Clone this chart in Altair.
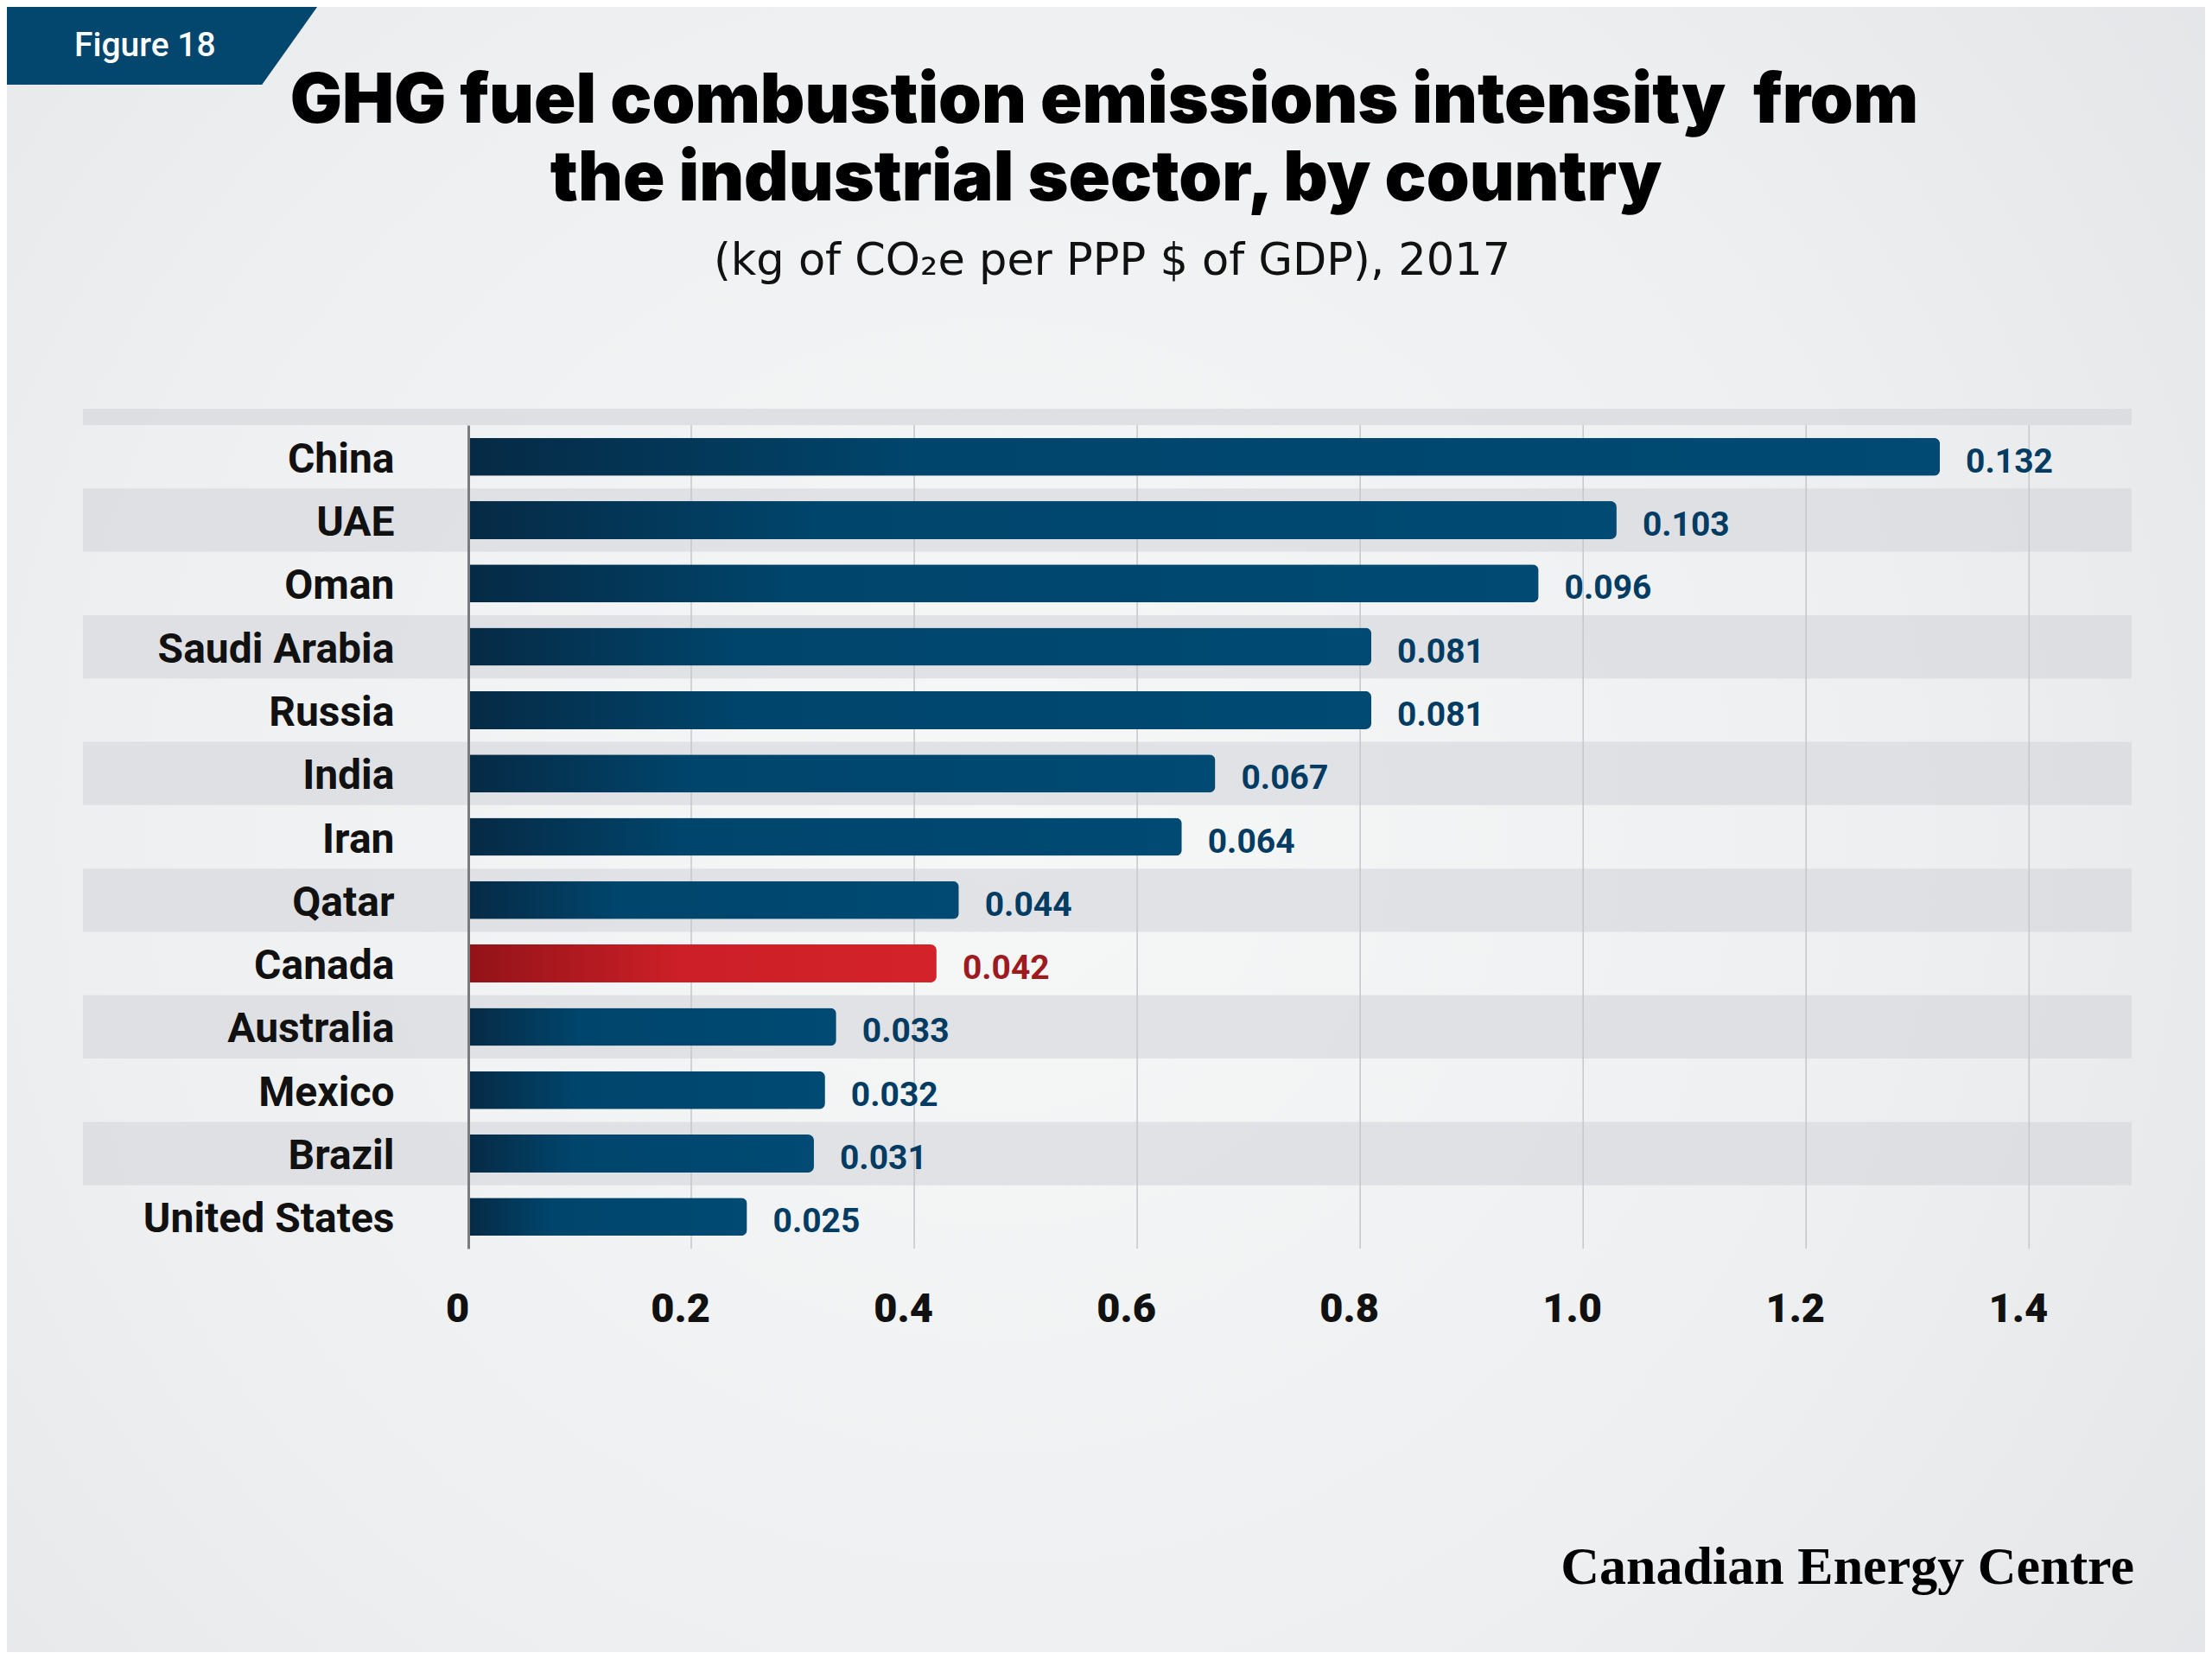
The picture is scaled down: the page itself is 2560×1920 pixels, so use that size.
import altair as alt
import pandas as pd

countries = ["China", "UAE", "Oman", "Saudi Arabia", "Russia", "India", "Iran",
             "Qatar", "Canada", "Australia", "Mexico", "Brazil", "United States"]
values = [0.132, 0.103, 0.096, 0.081, 0.081, 0.067, 0.064,
          0.044, 0.042, 0.033, 0.032, 0.031, 0.025]
tick_values = [0, 0.02, 0.04, 0.06, 0.08, 0.10, 0.12, 0.14]
highlight = "Canada"

title_1 = "GHG fuel combustion emissions intensity\u00a0 from"
title_2 = "the industrial sector, by country"
subtitle = "(kg of CO\u2082e per PPP $ of GDP), 2017"
figure_label = "Figure 18"
source_label = "Canadian Energy Centre"

W, H = 1925, 953
df = pd.DataFrame({"country": countries, "value": values})
df["label"] = [f"{v:.3f}" for v in values]
df["row"] = range(len(countries))
df["striped"] = df["row"] % 2 == 1
df["is_hl"] = df["country"] == highlight

xscale = alt.Scale(domain=[0, 0.1492], nice=False, zero=True)
x_axis = alt.Axis(title=None, values=tick_values, grid=False, domain=False, ticks=False,
                  tickSize=0, labelPadding=84, labelBaseline="alphabetic", labelFlush=False,
                  labelExpr="datum.value == 0 ? '0' : format(datum.value * 10, '.1f')",
                  labelFont="Roboto", labelFontSize=47, labelFontWeight=900,
                  labelColor="#111111", labelOffset=-13, zindex=1)
y_axis = alt.Axis(title=None, domain=True, domainColor="#7b7c7f", domainWidth=3,
                  ticks=False, tickSize=0, labelPadding=86, labelBaseline="alphabetic",
                  labelOffset=18, labelFont="Roboto", labelFontSize=48,
                  labelFontWeight="bold", labelColor="#111111", labelAlign="right",
                  labelLimit=600, zindex=1)
yscale = alt.Scale(paddingInner=0, paddingOuter=0)
Y = alt.Y("country:N", sort=countries, scale=yscale, axis=y_axis)

one = pd.DataFrame({"k": [1]})

bg = alt.Chart(one).mark_rect(
    fill=alt.RadialGradient(gradient="radial", x1=0.45, y1=0.5, r1=0, x2=0.45, y2=0.5, r2=0.75,
                            stops=[alt.GradientStop(offset=0, color="#f6f7f7"),
                                   alt.GradientStop(offset=0.55, color="#eeeff0"),
                                   alt.GradientStop(offset=1, color="#e1e3e6")])
).encode(x=alt.value(-534), x2=alt.value(2010), y=alt.value(-484), y2=alt.value(1420))

tab = alt.Chart(one).mark_point(
    shape="M0,-1L7.98,-1L6.56,1L0,1Z", filled=True, size=8100, color="#03466e",
    opacity=1, strokeWidth=0
).encode(x=alt.value(-534), y=alt.value(-439))

fig_txt = alt.Chart(pd.DataFrame({"t": [figure_label]})).mark_text(
    align="left", baseline="alphabetic", font="Roboto", fontSize=39, fontWeight=500,
    color="#ffffff"
).encode(text="t:N", x=alt.value(-456), y=alt.value(-427))

t1 = alt.Chart(pd.DataFrame({"t": [title_1]})).mark_text(
    align="center", baseline="alphabetic", font="Inter", fontSize=80, fontWeight=900,
    color="#000000"
).encode(text="t:N", x=alt.value(736), y=alt.value(-350))
t2 = alt.Chart(pd.DataFrame({"t": [title_2]})).mark_text(
    align="center", baseline="alphabetic", font="Inter", fontSize=80, fontWeight=900,
    color="#000000"
).encode(text="t:N", x=alt.value(738), y=alt.value(-260))
st = alt.Chart(pd.DataFrame({"t": [subtitle]})).mark_text(
    align="center", baseline="alphabetic", font="DejaVu Sans", fontSize=51,
    fontWeight="normal", color="#111111"
).encode(text="t:N", x=alt.value(745), y=alt.value(-174))

strip = alt.Chart(one).mark_rect(fill="#d4d6da", opacity=0.65).encode(
    x=alt.value(-446), x2=alt.value(W), y=alt.value(-19), y2=alt.value(0))

bands = alt.Chart(df).transform_filter("datum.striped").mark_rect(
    fill="#d4d6da", opacity=0.6
).encode(y=Y, x=alt.value(-446), x2=alt.value(W))

grid = alt.Chart(pd.DataFrame({"value": tick_values[1:]})).mark_rule(
    color="#c5c7ca", strokeWidth=1.5
).encode(x=alt.X("value:Q", scale=xscale, axis=x_axis), y=alt.value(0), y2=alt.value(H))

blue_grad = alt.Gradient(gradient="linear", x1=0, y1=0, x2=1, y2=0,
                         stops=[alt.GradientStop(offset=0, color="#062a45"),
                                alt.GradientStop(offset=0.3, color="#00456c"),
                                alt.GradientStop(offset=1, color="#004a73")])
red_grad = alt.Gradient(gradient="linear", x1=0, y1=0, x2=1, y2=0,
                        stops=[alt.GradientStop(offset=0, color="#921318"),
                               alt.GradientStop(offset=0.45, color="#cc1f27"),
                               alt.GradientStop(offset=1, color="#d4222a")])

X = alt.X("value:Q", scale=xscale, axis=x_axis)

bars = alt.Chart(df).transform_filter("!datum.is_hl").mark_bar(
    size=44, cornerRadiusEnd=7, fill=blue_grad
).encode(x=X, y=Y)
bars_hl = alt.Chart(df).transform_filter("datum.is_hl").mark_bar(
    size=44, cornerRadiusEnd=7, fill=red_grad
).encode(x=X, y=Y)

labels = alt.Chart(df).mark_text(
    align="left", baseline="alphabetic", dx=30, dy=18, font="Roboto", fontSize=39,
    fontWeight="bold"
).encode(
    x=X, y=Y, text="label:N",
    color=alt.condition("datum.is_hl", alt.value("#9d1b20"), alt.value("#023c63"))
)

logo = alt.Chart(pd.DataFrame({"t": [source_label]})).mark_text(
    align="right", baseline="alphabetic", font="Liberation Serif", fontSize=62,
    fontWeight="bold", color="#000000"
).encode(text="t:N", x=alt.value(1928), y=alt.value(1341))

chart = alt.layer(bg, tab, fig_txt, t1, t2, st, strip, bands, grid, bars, bars_hl,
                  labels, logo).properties(
    width=W, height=H, padding=0
).configure_view(stroke=None).configure(background="#ebecee")

chart.save("out.html", embed_options={"renderer": "svg", "actions": False})
